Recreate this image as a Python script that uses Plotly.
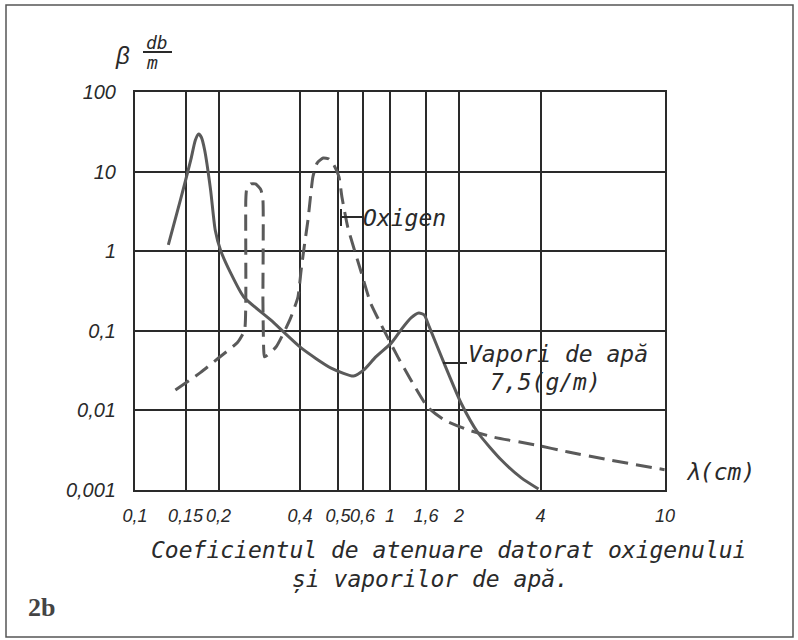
import numpy as np
import plotly.graph_objects as go

# ---------------- data ----------------
# hand-drawn, non-uniform wavelength scale: tick wavelengths (cm) and their labels
X_TICK_LAMBDA = [0.1, 0.15, 0.2, 0.4, 0.5, 0.6, 1, 1.6, 2, 4, 10]
X_TICK_TEXT = ["0,1", "0,15", "0,2", "0,4", "0,5", "0,6", "1", "1,6", "2", "4", "10"]
# position of each tick along the drawn scale (scale units)
X_TICK_SCALE = [0, 50.5, 83.5, 165, 203, 227.5, 255, 291, 324, 405.5, 530]

Y_TICK_VALS = [0.001, 0.01, 0.1, 1, 10, 100]
Y_TICK_TEXT = ["0,001", "0,01", "0,1", "1", "10", "100"]

# water vapour 7.5 g/m  (wavelength cm, attenuation dB/m)
VAP_LAMBDA = [0.133, 0.145, 0.158, 0.165, 0.170, 0.174, 0.179, 0.188, 0.195, 0.205,
              0.23, 0.262, 0.328, 0.403, 0.482, 0.564, 0.615, 0.793, 1.02, 1.18,
              1.35, 1.48, 1.57, 1.64, 1.82, 2.05, 2.47, 3.04, 3.53, 3.95]
VAP_DB = [1.2, 4.4, 14, 25, 29.6, 27, 18.7, 5.9, 1.85, 1.03,
          0.53, 0.266, 0.137, 0.061, 0.034, 0.027, 0.032, 0.047, 0.070, 0.102,
          0.145, 0.167, 0.158, 0.112, 0.039, 0.0124, 0.0052, 0.00238, 0.00142, 0.00103]

# oxygen
OXY_LAMBDA = [0.140, 0.173, 0.2, 0.247, 0.264, 0.267, 0.267, 0.269, 0.279, 0.291,
              0.304, 0.309, 0.309, 0.311, 0.313, 0.341, 0.375, 0.395, 0.403, 0.411,
              0.421, 0.434, 0.445, 0.461, 0.476, 0.489, 0.504, 0.516, 0.54, 0.592,
              0.718, 0.911, 1.13, 1.35, 1.62, 1.82, 2.22, 2.86, 3.85, 5.34, 7.26, 9.98]
OXY_DB = [0.018, 0.030, 0.0455, 0.072, 0.102, 0.244, 4.4, 5.9, 7.0, 7.0,
          5.9, 4.4, 0.244, 0.057, 0.047, 0.0625, 0.137, 0.266, 0.58, 1.13,
          2.47, 8.6, 12.8, 14.8, 14.4, 12.1, 8.6, 4.8, 2.0, 0.58,
          0.223, 0.102, 0.047, 0.024, 0.011, 0.0076, 0.0057, 0.0046, 0.0037, 0.0030, 0.0024, 0.0018]


def to_scale(lam):
    return np.interp(lam, X_TICK_LAMBDA, X_TICK_SCALE)


# ---------------- layout helpers ----------------
W, H = 798, 640
L, R, T, B = 135, 665, 92, 490


def px(x):
    return (x - L) / (R - L)


def py(y):
    return (B - y) / (B - T)


INK = "#2a2a2a"
CURVE = "#5a5a5a"
HAND = "DejaVu Sans Mono"
NUM = "Liberation Sans"

fig = go.Figure()
fig.add_trace(go.Scatter(
    x=to_scale(VAP_LAMBDA), y=VAP_DB, mode="lines",
    line=dict(color=CURVE, width=3, shape="spline", smoothing=0.6),
    showlegend=False, hoverinfo="skip"))
fig.add_trace(go.Scatter(
    x=to_scale(OXY_LAMBDA), y=OXY_DB, mode="lines",
    line=dict(color=CURVE, width=3, dash="16px,8px", shape="spline", smoothing=0.5),
    showlegend=False, hoverinfo="skip"))

ann = []


def text(x, y, s, size=23, family=HAND, italic=True, color=INK, bold=False):
    ann.append(dict(x=px(x), y=py(y), xref="paper", yref="paper", text=s,
                    showarrow=False, xanchor="center", yanchor="middle",
                    font=dict(family=family, size=size, color=color,
                              style="italic" if italic else "normal",
                              weight="bold" if bold else "normal")))


text(404, 218, "Oxigen")
text(558, 354, "Vapori de apă")
text(545, 382, "7,5(g/m)")
text(720, 472, "λ(cm)")
text(448, 550, "Coeficientul de atenuare datorat oxigenului")
text(430, 579, "și vaporilor de apă.")
text(122, 55, "β", size=24, family=NUM)
text(157, 43, "db", size=18)
text(152, 63, "m", size=18)
text(41, 607, "2b", size=26, family="Liberation Serif", italic=False, color="#444", bold=True)

shapes = []


def seg(x0, y0, x1, y1, w=2, color=INK):
    shapes.append(dict(type="line", xref="paper", yref="paper",
                       x0=px(x0), y0=py(y0), x1=px(x1), y1=py(y1),
                       line=dict(color=color, width=w)))


seg(143, 52, 172, 52)          # fraction bar of db/m
seg(341, 209, 341, 226)        # Oxigen leader
seg(341, 217, 362, 217)
seg(443, 363, 467, 363)        # Vapori leader
# outer frame
shapes.append(dict(type="rect", xref="paper", yref="paper",
                   x0=px(6), y0=py(5), x1=px(793), y1=py(637),
                   line=dict(color="#555", width=1.5)))

fig.update_layout(
    width=W, height=H, autosize=False,
    margin=dict(l=L, r=W - R, t=T, b=H - B, pad=0),
    paper_bgcolor="white", plot_bgcolor="white",
    annotations=ann, shapes=shapes,
    xaxis=dict(range=[0, 530], tickmode="array", tickvals=X_TICK_SCALE, ticktext=X_TICK_TEXT,
               showgrid=True, gridcolor=INK, gridwidth=1.6, zeroline=False,
               showline=True, mirror=True, linecolor=INK, linewidth=2,
               ticks="", tickangle=0, ticklabelstandoff=8,
               tickfont=dict(family=NUM, size=18, color=INK, style="italic")),
    yaxis=dict(type="log", range=[-3, 2], tickmode="array", tickvals=Y_TICK_VALS, ticktext=Y_TICK_TEXT,
               showgrid=True, gridcolor=INK, gridwidth=1.6, zeroline=False,
               showline=True, mirror=True, linecolor=INK, linewidth=2,
               ticks="", ticklabelstandoff=13,
               tickfont=dict(family=NUM, size=20, color=INK, style="italic")),
)

fig.write_html("out.html", config={"displayModeBar": False},
               post_script="document.body.style.margin='0px';document.body.style.overflow='hidden';")
